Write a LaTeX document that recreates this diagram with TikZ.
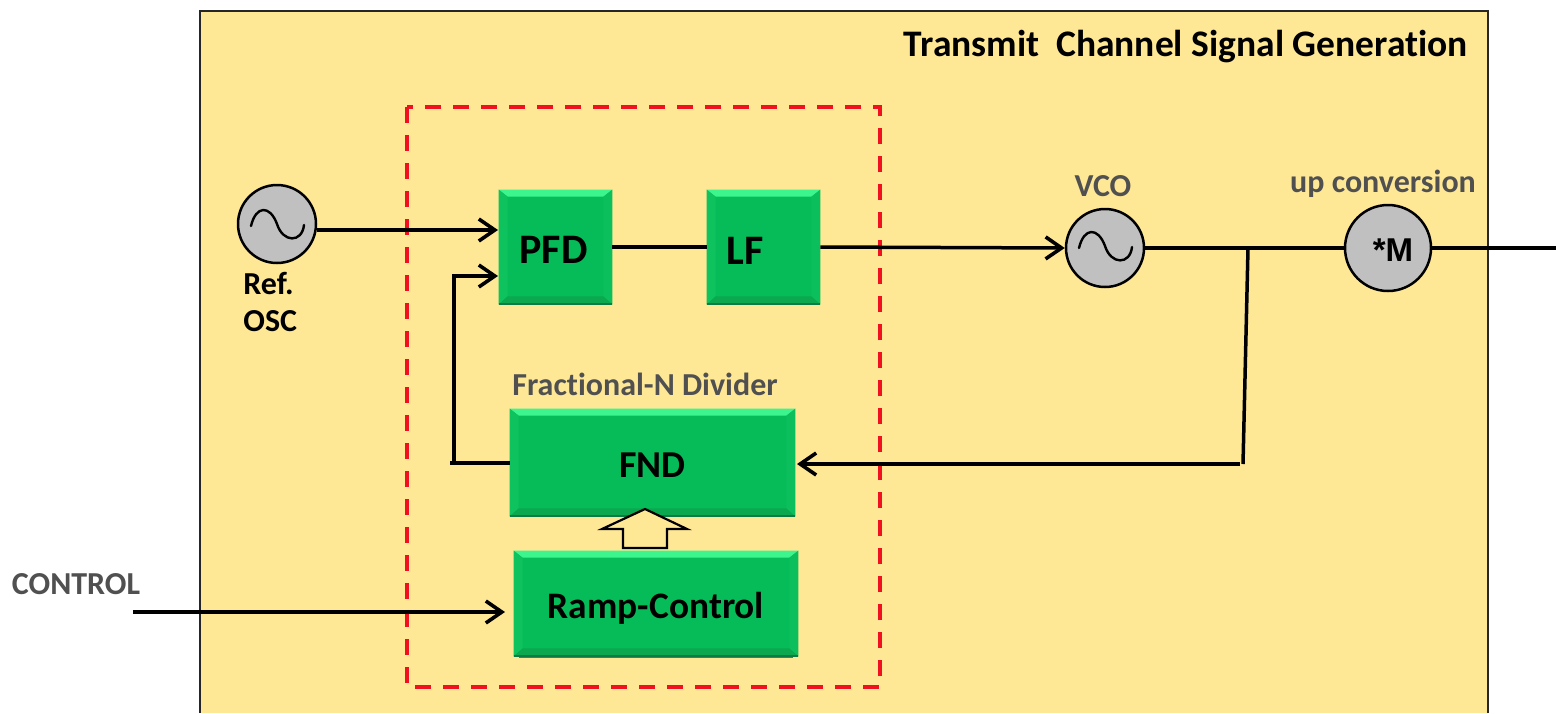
\documentclass[tikz,border=0pt]{standalone}
\usepackage{fontspec}
\setmainfont[RawFeature=-liga]{Carlito}
\newfontfamily\armfont{Liberation Sans}
\usetikzlibrary{arrows.meta,calc}
\definecolor{panel}{HTML}{FEE896}
\definecolor{face}{HTML}{06BC58}
\definecolor{btop}{HTML}{3CF58C}
\definecolor{bside}{HTML}{0EC25E}
\definecolor{bright}{HTML}{0BC05C}
\definecolor{bbot}{HTML}{0BA850}
\definecolor{bedge}{HTML}{0D7A45}
\definecolor{oscgray}{HTML}{C0C0C0}
\definecolor{lbl}{HTML}{505050}
\definecolor{dashred}{HTML}{F01020}
\tikzset{
  wire/.style={line width=1.75pt,draw=black},
  arrowed/.style={wire,-{Straight Barb[length=8pt,width=11pt,line width=1.8pt]}},
  osccircle/.style={circle,draw=black,line width=1.25pt,fill=oscgray,inner sep=0pt,minimum size=#1},
  blockbox/.style={rectangle,fill=face,inner sep=0pt,font=\bfseries\fontsize{21}{24}\selectfont},
  greylabel/.style={text=lbl,inner sep=0pt,font=\bfseries\fontsize{16}{18}\selectfont},
  blacklabel/.style={text=black,inner sep=0pt,font=\bfseries\fontsize{16}{18.5}\selectfont},
}
\newcommand{\bevelbox}[7]{%
  \node[blockbox,minimum width=#4*0.5pt,minimum height=#5*0.5pt] (#1) at (#2,#3) {\raisebox{#7}[\height][\depth]{#6}};
  \fill[btop] (#1.north west) -- (#1.north east) -- ($(#1.north east)+(-9,7)$) -- ($(#1.north west)+(9,7)$) -- cycle;
  \fill[bside] (#1.north west) -- ($(#1.north west)+(9,7)$) -- ($(#1.south west)+(9,-8)$) -- (#1.south west) -- cycle;
  \fill[bright] (#1.north east) -- ($(#1.north east)+(-9,7)$) -- ($(#1.south east)+(-9,-8)$) -- (#1.south east) -- cycle;
  \fill[bbot] (#1.south west) -- (#1.south east) -- ($(#1.south east)+(-9,-8)$) -- ($(#1.south west)+(9,-8)$) -- cycle;
  \draw[bedge,line width=1pt] (#1.south west) -- (#1.south east);
}
\begin{document}
\begin{tikzpicture}[x=0.5pt,y=-0.5pt]
\useasboundingbox (0,0) rectangle (1556,713);
\fill[white] (0,0) rectangle (1556,713);
% panel
\fill[panel] (200,11) rectangle (1488,713);
\draw[line width=1pt,black!85] (200,713) -- (200,11) -- (1488,11) -- (1488,713);
\node[anchor=east,inner sep=0pt,font=\bfseries\fontsize{18.75}{20}\selectfont] (title) at (1468,47) {Transmit\ \ Channel Signal Generation};
% dashed frame
\draw[dashred,line width=2pt,dash pattern=on 8pt off 6pt] (407,107) rectangle (880,687);
% oscillators
\node[osccircle=39pt] (osc) at (277,224) {};
\node[osccircle=39pt] (vco) at (1105,248) {};
\node[osccircle=43pt,font=\armfont\bfseries\fontsize{16.5}{18}\selectfont] (mul) at (1388,248) {\raisebox{-1pt}[\height][\depth]{\kern5pt*M}};
\draw[line width=1.2pt,line cap=round] (251,226) .. controls (256,205) and (270,205) .. (277,224) .. controls (283,243) and (302,243) .. (304,225);
\draw[line width=1.2pt,line cap=round] (1079,248) .. controls (1084,227) and (1098,227) .. (1105,246) .. controls (1111,265) and (1130,265) .. (1132,247);
% blocks
\bevelbox{pfd}{555.5}{247}{113}{114}{\kern-2pt PFD}{-1.5pt}
\bevelbox{lf}{763.5}{247}{113}{114}{\kern-18pt LF}{-2pt}
\bevelbox{fnd}{652.5}{462.5}{285}{107}{\fontsize{19}{22}\selectfont FND}{-1.5pt}
\fill[black!45!face!80!white] (519,655) rectangle (793,658);
\bevelbox{ramp}{656}{603.5}{284}{105}{\fontsize{18.7}{22}\selectfont Ramp-Control}{-2.5pt}
% hollow arrow
\draw[line width=1.1pt,fill=panel,line join=miter] (645,509) -- (687,529) -- (667,529) -- (667,548) -- (623,548) -- (623,529) -- (602,529) -- cycle;
% labels
\node[blacklabel,align=left,anchor=north west] (reflbl) at (243,272) {Ref.\\OSC};
\node[greylabel] (vcolbl) at (1103,186) {VCO};
\node[greylabel] (uplbl) at (1383,184) {up conversion};
\node[greylabel] (fraclbl) at (645,384) {Fractional-N Divider};
\node[greylabel] (ctrllbl) at (76,584) {CONTROL};
% free ends
\coordinate (pfdup) at (498,230);
\coordinate (pfdlow) at (498,276);
\coordinate (fbcorner) at (454,276);
\coordinate (fbfoot) at (454,463);
\coordinate (fbstub) at (450,463);
\coordinate (tapTop) at (1248,248);
\coordinate (tapBot) at (1243,464);
\coordinate (out) at (1556,248);
\coordinate (ctrlstart) at (133,612);
\coordinate (rampin) at (505,612);
\coordinate (fndin) at (797,464);
\coordinate (tapEnd) at (1240,464);
% connectors
\draw[arrowed] (osc.east |- pfdup) -- (pfdup);
\draw[wire] (pfd.east) -- (lf.west);
\draw[arrowed] (lf.east) -- (vco.west);
\draw[wire] (vco.east) -- (mul.west);
\draw[wire] (mul.east) -- (out);
\draw[wire] (tapTop) -- (tapBot);
\draw[arrowed] (tapEnd) -- (fndin);
\draw[wire] (fnd.west |- fbstub) -- (fbstub);
\draw[arrowed] (fbfoot) -- (fbcorner) -- (pfdlow);
\draw[arrowed] (ctrlstart) -- (rampin);
\end{tikzpicture}
\end{document}
